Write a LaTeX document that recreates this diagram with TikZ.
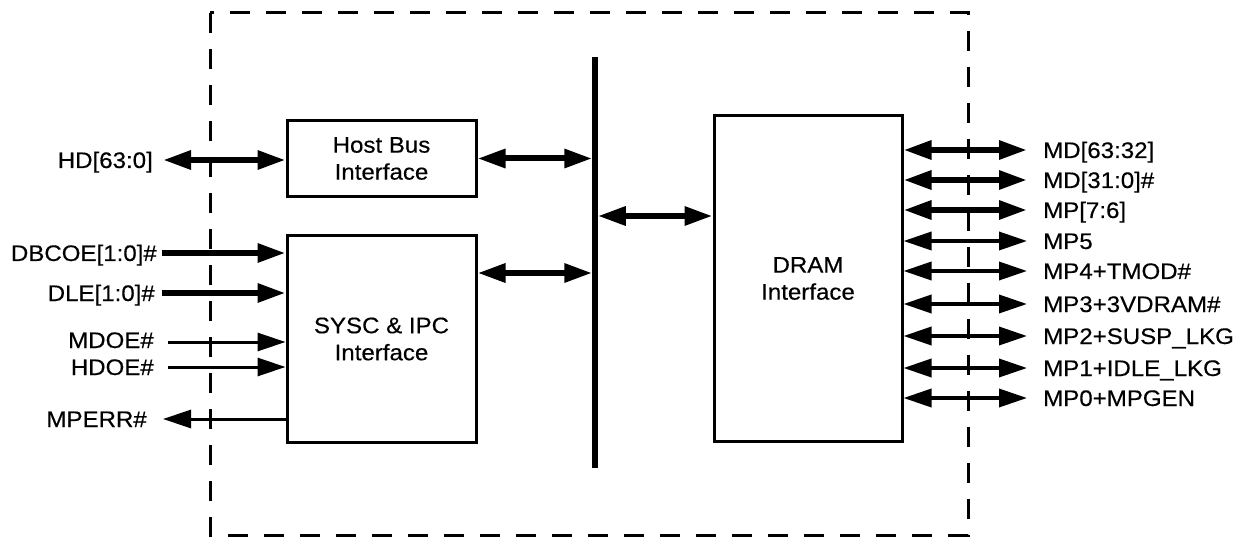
\documentclass[tikz,border=0pt]{standalone}
\usepackage{fontspec}
\setmainfont{Liberation Sans}[FakeStretch=1.07, FakeBold=0.4]
\usetikzlibrary{arrows.meta}
\tikzset{
  label font/.style={font=\fontsize{22.5}{27}\selectfont},
  sig/.style={label font, inner sep=0pt, text height=16pt, text depth=0pt},
  block/.style={draw, line width=3pt, align=center, inner sep=0pt, label font},
  frame/.style={line width=3pt, dash pattern=on 20pt off 16pt},
  widebus/.style={line width=6pt},
  narrowbus/.style={line width=3pt},
  midbus/.style={line width=3.5pt},
  both/.style={{Triangle[length=28pt,width=18pt]}-{Triangle[length=28pt,width=18pt]}},
  fwd/.style={-{Triangle[length=28pt,width=18pt]}},
}
\begin{document}
\begin{tikzpicture}[x=1pt,y=-1pt]
\useasboundingbox (0,0) rectangle (1244,537);

% chip boundary
\draw[frame] (210,13) rectangle (968,535);

% functional blocks
\node[block, minimum width=189pt, minimum height=76pt] (hbi) at (381.5,158.5) {Host Bus\\Interface};
\node[block, minimum width=189pt, minimum height=206pt] (sysc) at (381.5,339) {SYSC \& IPC\\Interface};
\node[block, minimum width=188pt, minimum height=325pt] (dram) at (808,278.5) {DRAM\\Interface};

% internal bus
\node[fill, inner sep=0pt, outer sep=0pt, minimum width=5.5pt, minimum height=411pt] (bus) at (595,262.5) {};

% internal connections
\draw[widebus, both] (hbi.east) -- (bus.west |- hbi.east);
\draw[widebus, both] (sysc.east |- 0,273) -- (bus.west |- 0,273);
\draw[widebus, both] (bus.east |- 0,216) -- (dram.west |- 0,216);

% host side signals
\node[sig, anchor=east] (hd) at (153,160) {HD[63:0]};
\node[sig, anchor=east] (dbcoe) at (157,253) {DBCOE[1:0]\#};
\node[sig, anchor=east] (dle) at (155,293) {DLE[1:0]\#};
\node[sig, anchor=east] (mdoe) at (154,340) {MDOE\#};
\node[sig, anchor=east] (hdoe) at (154,367) {HDOE\#};
\node[sig, anchor=east] (mperr) at (147,419) {MPERR\#};

\draw[widebus, both] ([xshift=10pt]hd.east) -- (hbi.west |- hd.east);
\draw[widebus, fwd] ([xshift=5pt]dbcoe.east) -- (sysc.west |- dbcoe.east);
\draw[widebus, fwd] ([xshift=7pt]dle.east) -- (sysc.west |- dle.east);
\draw[narrowbus, fwd] ([xshift=14pt]mdoe.east |- 0,342) -- (sysc.west |- 0,342);
\draw[narrowbus, fwd] ([xshift=14pt]hdoe.east) -- (sysc.west |- hdoe.east);
\draw[narrowbus, fwd] (sysc.west |- mperr.east) -- ([xshift=16pt]mperr.east);

% memory side signals
\node[sig, anchor=west] (md1) at (1043,150) {MD[63:32]};
\node[sig, anchor=west] (md0) at (1043,180) {MD[31:0]\#};
\node[sig, anchor=west] (mp76) at (1043,210) {MP[7:6]};
\node[sig, anchor=west] (mp5) at (1043,241) {MP5};
\node[sig, anchor=west] (mp4) at (1043,271) {MP4+TMOD\#};
\node[sig, anchor=west] (mp3) at (1043,304) {MP3+3VDRAM\#};
\node[sig, anchor=west] (mp2) at (1043,336) {MP2+SUSP\_LKG};
\node[sig, anchor=west] (mp1) at (1043,368) {MP1+IDLE\_LKG};
\node[sig, anchor=west] (mp0) at (1043,398) {MP0+MPGEN};

\foreach \s in {md1,md0,mp76}
  \draw[widebus, both] (dram.east |- \s.west) -- ([xshift=-16pt]\s.west);
\foreach \s in {mp5,mp4,mp3,mp2,mp1,mp0}
  \draw[midbus, both] (dram.east |- \s.west) -- ([xshift=-16pt]\s.west);
\end{tikzpicture}
\end{document}
